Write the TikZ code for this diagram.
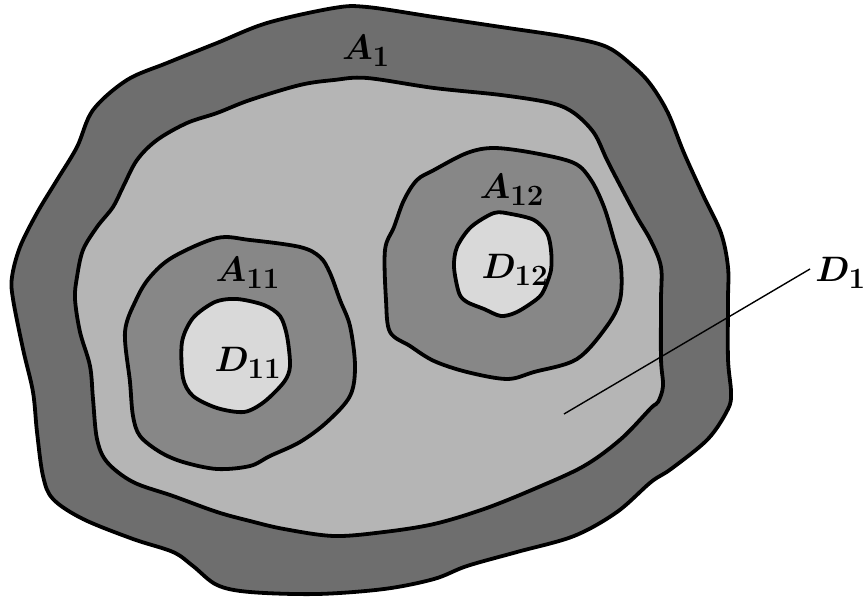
\documentclass[tikz,border=0pt]{standalone}
\newcommand{\regionlabel}[1]{\scalebox{1.42}{\Huge\boldmath$#1$}}
\begin{document}
\begin{tikzpicture}[x=1pt,y=-1pt,
  bnd/.style={draw=black,line width=3.8pt,line join=round},
  bandA/.style={bnd,fill=black!57},
  bandB/.style={bnd,fill=black!47},
  regD/.style={bnd,fill=black!29},
  regE/.style={bnd,fill=black!15},
  lbl/.style={inner sep=0pt},
  lead/.style={draw=black,line width=1.4pt}]
\useasboundingbox (0,0) rectangle (868,599);
% outer band A1
\path[bandA] plot[smooth cycle,tension=0.55] coordinates {
(217,43) (267,23) (334,8) (367,7) (434,17) (501,27) (567,37) (607,47) (634,67) (651,85)
(668,113) (684,153) (704,197) (721,233) (728,267) (728,300) (728,359) (731,392) (728,409)
(708,439) (671,469) (651,482) (617,512) (574,536) (517,552) (467,566) (434,579) (384,589)
(317,594) (250,592) (217,585) (193,566) (173,552) (133,539) (83,519) (53,499) (43,476)
(37,432) (33,392) (23,349) (13,299) (12,277) (20,247) (37,213) (57,180) (77,147) (93,110)
(127,80) (167,63)};
% region D1
\path[regD] plot[smooth cycle,tension=0.55] coordinates {
(217,113) (250,100) (300,85) (334,80) (367,78) (434,88) (501,95) (551,103) (574,113)
(594,133) (607,160) (621,187) (637,217) (651,241) (661,267) (661,300) (661,359) (663,386)
(658,402) (651,408) (621,439) (584,466) (534,489) (484,509) (434,524) (384,532) (334,536)
(284,529) (250,521) (217,512) (173,496) (133,482) (107,462) (97,439) (93,399) (90,366)
(80,332) (75,299) (77,277) (83,250) (97,227) (113,207) (123,187) (137,160) (157,140) (187,123)};
% band A11
\path[bandB] plot[smooth cycle,tension=0.55] coordinates {
(217,238) (250,240) (300,247) (320,257) (330,273) (340,300) (350,326) (355,366) (350,396)
(327,422) (300,442) (270,456) (250,466) (217,469) (183,462) (160,452) (140,436) (133,416)
(130,382) (125,332) (136,300) (150,277) (173,257)};
% band A12
\path[bandB] plot[smooth cycle,tension=0.55] coordinates {
(434,170) (467,153) (494,148) (534,153) (574,163) (591,180) (604,207) (614,240) (621,267)
(620,300) (607,326) (577,359) (534,372) (507,379) (467,372) (434,361) (410,346) (390,332)
(386,300) (385,250) (394,227) (404,200) (417,180)};
% region D11
\path[regE] plot[smooth cycle,tension=0.5] coordinates {
(193,318) (182,342) (183,378) (193,396) (217,408) (244,412) (264,402) (284,382) (290,366)
(287,336) (280,316) (264,305) (237,299) (215,302)};
% region D12
\path[regE] plot[smooth cycle,tension=0.5] coordinates {
(459,293) (467,302) (484,309) (501,316) (517,312) (537,299) (544,290) (551,270) (551,250)
(547,233) (534,220) (511,214) (494,213) (471,227) (457,247) (454,267)};
% labels
\node[lbl] (A1)  at (366,51)  {\regionlabel{A_1}};
\node[lbl] (A11) at (248,273) {\regionlabel{A_{11}}};
\node[lbl] (D11) at (248,363) {\regionlabel{D_{11}}};
\node[lbl] (A12) at (512,190) {\regionlabel{A_{12}}};
\node[lbl] (D12) at (515,270) {\regionlabel{D_{12}}};
\node[lbl,anchor=east] (D1) at (866,273) {\regionlabel{D_1}};
% leader
\coordinate (d1in) at (564,414);
\coordinate (d1out) at (810,269);
\draw[lead] (d1in) -- (d1out);
\end{tikzpicture}
\end{document}
